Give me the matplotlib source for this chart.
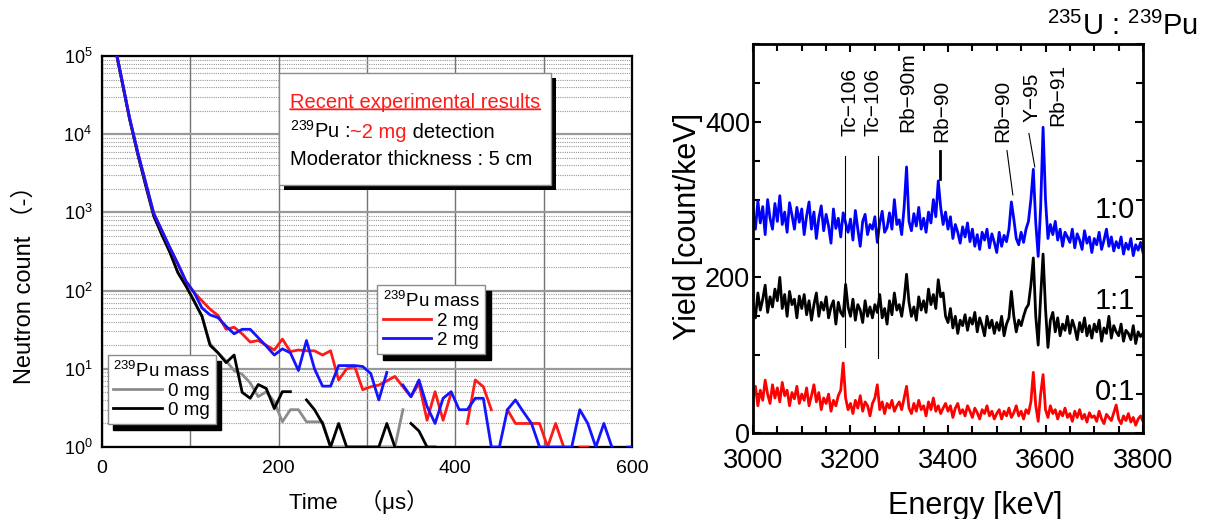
import numpy as np
import matplotlib
matplotlib.use("Agg")
import matplotlib.pyplot as plt
from matplotlib.patches import Rectangle
from matplotlib.ticker import MultipleLocator, LogLocator, NullFormatter

plt.rcParams["font.family"] = ["Liberation Sans", "Noto Sans CJK JP", "DejaVu Sans"]
plt.rcParams["mathtext.default"] = "regular"

nan = np.nan

# ---------------- left panel: neutron decay curves ----------------
BIN_US = 9.1
time_us = np.arange(67) * BIN_US + 4.0

red_2mg = [nan, 1.65e5, 5.2e4, 1.6e4, 5.9e3, 2.4e3, 970, 590, 355, 220,
           132, 95, 74, 58, 48, 32, 34, 28, 22, 23,
           20, 17.4, 24, 16.6, 17.4, 17, 17, 15, 17, 7.2,
           10, 10.7, 5.4, 5.9, 6.2, 7, 8, 5.9, 4.4, 6.5,
           2.2, 5.1, 2.2, 4.9, nan, 2, 7.2, 5.9, 3, nan,
           3, 2, 2, 2, 2, 1, 2, 1, nan, 1,
           1, nan, nan, nan, nan, nan, nan]

blue_2mg = [nan, 1.65e5, 5.2e4, 1.6e4, 5.9e3, 2.4e3, 970, 590, 355, 220,
            132, 95, 60, 49, 45, 35, 28, 32, 32, 25,
            19.5, 15, 18, 16, 9.5, 23, 10, 6, 6, 11,
            11, 11, 10.7, 8.7, 4, 9, nan, 6.2, 4.4, 7.2,
            3.3, 2, 4.2, 5.1, 3, 3, 4.2, 4.2, 1, 1,
            3, 4, 2.8, 2, 1, 1, 1, 1, 1, 3,
            2, 1, 2, 1, nan, 1, 1]

black_0mg = [nan, 1.6e5, 5.0e4, 1.55e4, 5.6e3, 2.2e3, 900, 520, 310, 170,
             115, 74, 47, 20, 16, 12, 15, 5, 4.2, 6.3,
             5.6, 3.1, 5.1, 5.1, nan, 4, 3, 2, 1, 2,
             1, 1, 1, 1, 1, 2, 1, nan, 2, 1.6,
             1, 1, nan, nan, nan, nan, nan, nan, nan, nan,
             nan, nan, nan, nan, nan, nan, nan, nan, nan, nan,
             nan, nan, nan, nan, nan, nan, nan]

gray_0mg = [nan, 1.6e5, 5.0e4, 1.55e4, 5.6e3, 2.2e3, 900, 520, 310, 170,
            115, 74, 47, 21, 16, 12.6, 9.5, 8.5, 6.6, 4.4,
            5.1, 3.8, 2.1, 3, 3, 2.1, 2.1, 2.1, 1, 1,
            1, 1, 1, 1, 1, 1, 1, 3, nan, nan,
            nan, nan, nan, nan, nan, nan, nan, nan, nan, nan,
            nan, nan, nan, nan, nan, nan, nan, nan, nan, nan,
            nan, nan, nan, nan, nan, nan, nan]

# ---------------- right panel: gamma spectra ----------------
energy_kev = np.arange(3000, 3805, 5)

yield_1_0 = [285, 262, 298, 270, 291, 255, 300, 276, 262, 295,
             272, 305, 268, 284, 258, 296, 280, 262, 290, 271,
             288, 255, 279, 297, 262, 284, 250, 276, 292, 260,
             281, 266, 244, 288, 263, 276, 252, 283, 270, 258,
             275, 248, 286, 262, 240, 272, 281, 255, 268, 262,
             278, 245, 270, 285, 258, 264, 283, 262, 300, 268,
             274, 255, 290, 342, 272, 260, 282, 266, 290, 262,
             276, 258, 284, 270, 300, 278, 324, 290, 268, 284,
             262, 278, 250, 268, 258, 244, 265, 252, 270, 246,
             262, 240, 255, 236, 258, 248, 262, 238, 256, 245,
             232, 258, 240, 254, 246, 262, 297, 275, 250, 242,
             258, 245, 262, 272, 300, 339, 270, 227, 290, 393,
             300, 250, 268, 255, 272, 248, 262, 240, 258, 252,
             245, 262, 238, 256, 248, 236, 260, 244, 252, 232,
             250, 242, 258, 236, 248, 262, 240, 252, 234, 246,
             238, 252, 230, 244, 236, 250, 228, 242, 235, 245,
             232]

yield_1_1 = [165, 148, 180, 158, 172, 190, 155, 175, 162, 185,
             170, 200, 160, 178, 150, 182, 165, 172, 148, 176,
             160, 178, 152, 170, 145, 165, 180, 150, 168, 158,
             175, 148, 162, 170, 140, 168, 155, 150, 191, 162,
             150, 172, 145, 165, 158, 142, 170, 150, 162, 148,
             165, 155, 178, 148, 160, 140, 170, 152, 180, 158,
             165, 150, 172, 204, 168, 150, 162, 145, 175, 158,
             170, 155, 185, 165, 178, 160, 197, 175, 180, 150,
             142, 160, 135, 150, 128, 145, 138, 152, 132, 148,
             140, 155, 130, 148, 138, 125, 150, 135, 145, 128,
             142, 132, 150, 125, 140, 148, 182, 150, 130, 145,
             138, 150, 160, 165, 190, 225, 150, 113, 175, 230,
             160, 110, 145, 155, 130, 148, 125, 140, 132, 150,
             128, 145, 135, 120, 142, 130, 148, 125, 138, 122,
             140, 130, 145, 118, 135, 128, 150, 122, 138, 130,
             125, 140, 118, 132, 128, 120, 138, 115, 130, 124,
             128]

yield_0_1 = [48, 60, 35, 55, 42, 68, 50, 38, 62, 45,
             58, 40, 65, 48, 55, 35, 52, 44, 60, 38,
             50, 42, 58, 35, 48, 62, 40, 52, 30, 45,
             38, 50, 28, 42, 35, 48, 55, 90, 45, 30,
             38, 25, 42, 32, 48, 28, 40, 35, 22, 38,
             45, 62, 30, 40, 25, 38, 32, 42, 28, 35,
             40, 30, 45, 60, 32, 25, 38, 28, 42, 30,
             35, 22, 40, 30, 45, 28, 35, 25, 32, 38,
             28, 35, 20, 32, 38, 25, 30, 22, 35, 28,
             20, 32, 26, 18, 30, 25, 35, 22, 28, 18,
             25, 30, 18, 28, 22, 32, 20, 26, 35, 22,
             28, 18, 30, 25, 40, 78, 35, 15, 50, 75,
             30, 20, 35, 25, 30, 18, 28, 22, 32, 20,
             25, 15, 28, 20, 30, 18, 24, 14, 26, 20,
             22, 15, 28, 18, 12, 24, 20, 16, 26, 36,
             18, 12, 22, 16, 25, 14, 20, 10, 18, 22,
             15]

peak_names = ["Tc\u2212106", "Tc\u2212106", "Rb\u221290m", "Rb\u221290",
              "Rb\u221290", "Y\u221295", "Rb\u221291"]
peak_text_x = [3199, 3246, 3318, 3388, 3513, 3572, 3626]
peak_text_y = [382, 382, 387, 374, 374, 400, 395]
# leader lines: (x_top, y_top, x_bottom, y_bottom, width)
leaders = [(3189, 356, 3189, 111, 0.8),
           (3256, 356, 3256, 97, 0.8),
           (3384, 363, 3384, 326, 2.0),
           (3521, 363, 3533, 306, 0.8),
           (3566, 385, 3578, 342, 0.8)]

ratio_names = ["1:0", "1:1", "0:1"]
ratio_y = [277, 159, 43]

fig = plt.figure(figsize=(12.2, 5.19), dpi=100)
ax1 = fig.add_axes([0.0836, 0.1387, 0.4344, 0.7534])
ax2 = fig.add_axes([0.6172, 0.1657, 0.3197, 0.7495])

# ---- left ----
l_gray, = ax1.plot(time_us, gray_0mg, color="#8c8c8c", lw=2.0, zorder=3)
l_black, = ax1.plot(time_us, black_0mg, color="black", lw=2.0, zorder=3)
l_red, = ax1.plot(time_us, red_2mg, color="#ff1a1a", lw=2.0, zorder=3)
l_blue, = ax1.plot(time_us, blue_2mg, color="#1414ff", lw=2.0, zorder=3)

ax1.set_yscale("log")
ax1.set_xlim(0, 600)
ax1.set_ylim(1, 1e5)
ax1.set_xticks([0, 200, 400, 600])
ax1.xaxis.set_minor_locator(MultipleLocator(100))
ax1.set_yticks([1, 10, 100, 1e3, 1e4, 1e5])
ax1.set_yticklabels(["$10^{%d}$" % i for i in range(6)])
ax1.yaxis.set_minor_locator(LogLocator(base=10, subs=np.arange(2, 10)))
ax1.yaxis.set_minor_formatter(NullFormatter())
ax1.tick_params(axis="both", which="both", length=0)
ax1.tick_params(axis="x", labelsize=14, pad=9)
ax1.tick_params(axis="y", labelsize=13, pad=7)
ax1.grid(True, axis="x", which="both", color="0.45", lw=1.0, zorder=0)
ax1.grid(True, axis="y", which="major", color="0.6", lw=1.6, zorder=0)
ax1.grid(True, axis="y", which="minor", color="0.6", lw=0.8, ls=(0, (1, 1)), zorder=0)
ax1.set_axisbelow(True)
for s in ax1.spines.values():
    s.set_linewidth(1.6)

ax1.set_ylabel("Neutron count \uff08-\uff09", fontsize=17)
ax1.yaxis.set_label_coords(-0.125, 0.43)
ax1.set_xlabel("Time\u3000\uff08\u03bcs\uff09", fontsize=16)
ax1.xaxis.set_label_coords(0.485, -0.11)

leg_kw = dict(loc="upper left", borderaxespad=0, fancybox=False, framealpha=1,
              edgecolor="0.55", fontsize=13.5, title_fontsize=13.5, alignment="left",
              handlelength=2.6, handletextpad=0.3, labelspacing=0.1, borderpad=0.3,
              shadow={"ox": 4, "oy": -4, "shade": 1.0, "alpha": 1})
leg1 = ax1.legend([l_red, l_blue], ["2 mg", "2 mg"], title="$^{239}$Pu mass",
                  bbox_to_anchor=(0.519, 0.414), **leg_kw)
leg1.get_frame().set_linewidth(1.0)
ax1.add_artist(leg1)
leg2 = ax1.legend([l_gray, l_black], ["0 mg", "0 mg"], title="$^{239}$Pu mass",
                  bbox_to_anchor=(0.011, 0.235), **leg_kw)
leg2.get_frame().set_linewidth(1.0)

# info box
bx, by, bw, bh = 0.334, 0.670, 0.513, 0.286
ax1.add_artist(Rectangle((bx + 0.0094, by - 0.0128), bw, bh, transform=ax1.transAxes,
                         facecolor="black", edgecolor="none", zorder=6))
ax1.add_artist(Rectangle((bx, by), bw, bh, transform=ax1.transAxes,
                         facecolor="white", edgecolor="0.55", lw=1.0, zorder=7))
tx = 0.355
t1 = ax1.text(tx, 0.868, "Recent experimental results", color="#ff1a1a",
              fontsize=14.5, transform=ax1.transAxes, va="baseline", zorder=8)
ax1.annotate("", xy=(0, 0.12), xycoords=t1, xytext=(1, 0.12), textcoords=t1,
             arrowprops=dict(arrowstyle="-", color="#ff1a1a", lw=1.3,
                             shrinkA=0, shrinkB=0), zorder=8)
t2a = ax1.text(tx, 0.790, "$^{239}$Pu :", fontsize=14.5, transform=ax1.transAxes,
               va="baseline", zorder=8)
t2b = ax1.annotate("~2 mg", xy=(1, 0.790), xycoords=(t2a, "axes fraction"),
                   color="#ff1a1a", fontsize=14.5, va="baseline", ha="left", zorder=8)
ax1.annotate(" detection", xy=(1, 0.790), xycoords=(t2b, "axes fraction"),
             fontsize=14.5, va="baseline", ha="left", zorder=8)
ax1.text(tx, 0.720, "Moderator thickness : 5 cm", fontsize=14.5,
         transform=ax1.transAxes, va="baseline", zorder=8)

# ---- right ----
ax2.plot(energy_kev, yield_1_0, color="#0000ff", lw=2.0)
ax2.plot(energy_kev, yield_1_1, color="black", lw=2.0)
ax2.plot(energy_kev, yield_0_1, color="#ff0000", lw=2.0)

for x0, y0, x1, y1, w in leaders:
    ax2.plot([x0, x1], [y0, y1], color="black", lw=w)
for name, x, y in zip(peak_names, peak_text_x, peak_text_y):
    ax2.text(x, y, name, rotation=90, ha="center", va="bottom", fontsize=15)
for name, y in zip(ratio_names, ratio_y):
    ax2.text(3784, y, name, ha="right", va="baseline", fontsize=21)

ax2.set_xlim(3000, 3800)
ax2.set_ylim(0, 500)
ax2.set_xticks([3000, 3200, 3400, 3600, 3800])
ax2.set_yticks([0, 200, 400])
ax2.xaxis.set_minor_locator(MultipleLocator(50))
ax2.yaxis.set_minor_locator(MultipleLocator(50))
ax2.tick_params(which="both", direction="in", top=True, right=True, width=1.5)
ax2.tick_params(which="major", length=5.5, labelsize=19.5)
ax2.tick_params(which="minor", length=5)
ax2.tick_params(axis="y", pad=2)
ax2.tick_params(axis="x", pad=10.5)
for s in ax2.spines.values():
    s.set_linewidth(2.0)
ax2.set_ylabel("Yield [count/keV]", fontsize=22)
ax2.yaxis.set_label_coords(-0.128, 0.532)
ax2.set_xlabel("Energy [keV]", fontsize=22)
ax2.xaxis.set_label_coords(0.57, -0.15)

fig.text(0.858, 0.9326, "$^{235}$U : $^{239}$Pu", fontsize=21, ha="left", va="baseline")

fig.savefig("out.png", dpi=100)
